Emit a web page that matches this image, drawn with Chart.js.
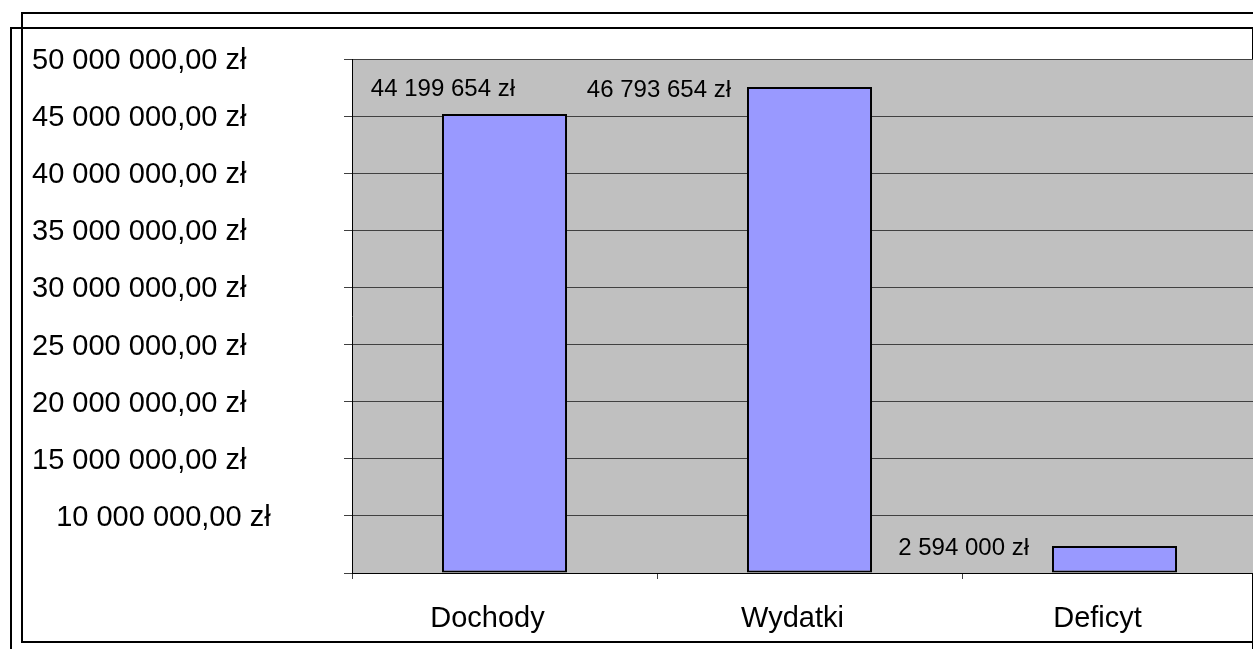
<!DOCTYPE html>
<html>
<head>
<meta charset="utf-8">
<script src="https://cdn.jsdelivr.net/npm/chart.js@4/dist/chart.umd.min.js"></script>
<style>
  html, body { margin: 0; padding: 0; background: #fff; overflow: hidden; width: 1253px; height: 649px; }
  .frame { position: absolute; border: 2px solid #000; box-sizing: border-box; }
  #frame-a { left: 21px; top: 12px; width: 1400px; height: 631px; }
  #frame-b { left: 10px; top: 27px; width: 1244px; height: 700px; }
  #chart { position: absolute; left: 0; top: 0; z-index: 2; }
</style>
</head>
<body>
<div class="frame" id="frame-b"></div>
<div class="frame" id="frame-a"></div>
<canvas id="chart" width="1300" height="649"></canvas>
<script>
/* ---- data ---- */
const categories = ['Dochody', 'Wydatki', 'Deficyt'];
const amounts = [44199654, 46793654, 2594000];
const yMax = 49500000;
const yTickLabels = ['', '10 000 000,00 zł', '15 000 000,00 zł', '20 000 000,00 zł',
  '25 000 000,00 zł', '30 000 000,00 zł', '35 000 000,00 zł', '40 000 000,00 zł',
  '45 000 000,00 zł', '50 000 000,00 zł'];

// where each value label sits relative to its bar's top-left corner (as in the original sheet)
const labelOffsets = [{ dx: 73, dy: -25 }, { dx: -16, dy: 3 }, { dx: -23, dy: 2 }];

const FONT = "'Liberation Sans', Arial, sans-serif";

function zl(v) { return String(v).replace(/\B(?=(\d{3})+(?!\d))/g, ' ') + ' zł'; }

/* ---- gray plot area ---- */
const plotBg = {
  id: 'plotBg',
  beforeDraw(chart) {
    const { ctx, chartArea: a } = chart;
    ctx.save();
    ctx.fillStyle = '#C0C0C0';
    ctx.fillRect(a.left, a.top, a.right - a.left, a.bottom - a.top);
    ctx.restore();
  }
};

/* ---- value labels next to bar tops ---- */
const valueLabels = {
  id: 'valueLabels',
  afterDatasetsDraw(chart) {
    const { ctx } = chart;
    const meta = chart.getDatasetMeta(0);
    ctx.save();
    ctx.font = '24px ' + FONT;
    ctx.fillStyle = '#000';
    ctx.textAlign = 'right';
    ctx.textBaseline = 'middle';
    meta.data.forEach((bar, i) => {
      const left = bar.x - bar.width / 2;
      const o = labelOffsets[i];
      ctx.fillText(zl(amounts[i]), left + o.dx, bar.y + o.dy);
    });
    ctx.restore();
  }
};

new Chart(document.getElementById('chart'), {
  type: 'bar',
  data: {
    labels: categories,
    datasets: [{
      data: amounts,
      backgroundColor: '#9999FF',
      borderColor: '#000',
      borderWidth: 2,
      borderSkipped: false,
      categoryPercentage: 1,
      barPercentage: 0.41
    }]
  },
  options: {
    responsive: false,
    animation: false,
    layout: { padding: { left: 32, right: 33, top: 59, bottom: 0 } },
    plugins: { legend: { display: false }, tooltip: { enabled: false } },
    scales: {
      y: {
        min: 0, max: yMax,
        afterFit(s) { s.width = 320; },
        ticks: {
          stepSize: yMax / 9,
          autoSkip: false,
          crossAlign: 'far',
          labelOffset: 2,
          color: '#000',
          font: { family: FONT, size: 29 },
          callback: (v, i) => (i === 1 ? '   ' : '') + yTickLabels[i]
        },
        grid: { color: '#404040', lineWidth: 1, tickLength: 8 },
        border: { color: '#000', width: 1 }
      },
      x: {
        afterFit(s) { s.height = 76; },
        ticks: { color: '#000', padding: 23, labelOffset: -17, font: { family: FONT, size: 29 } },
        grid: { offset: true, drawOnChartArea: false, color: '#404040', tickLength: 6 },
        border: { color: '#000', width: 1 }
      }
    }
  },
  plugins: [plotBg, valueLabels]
});
</script>
</body>
</html>
